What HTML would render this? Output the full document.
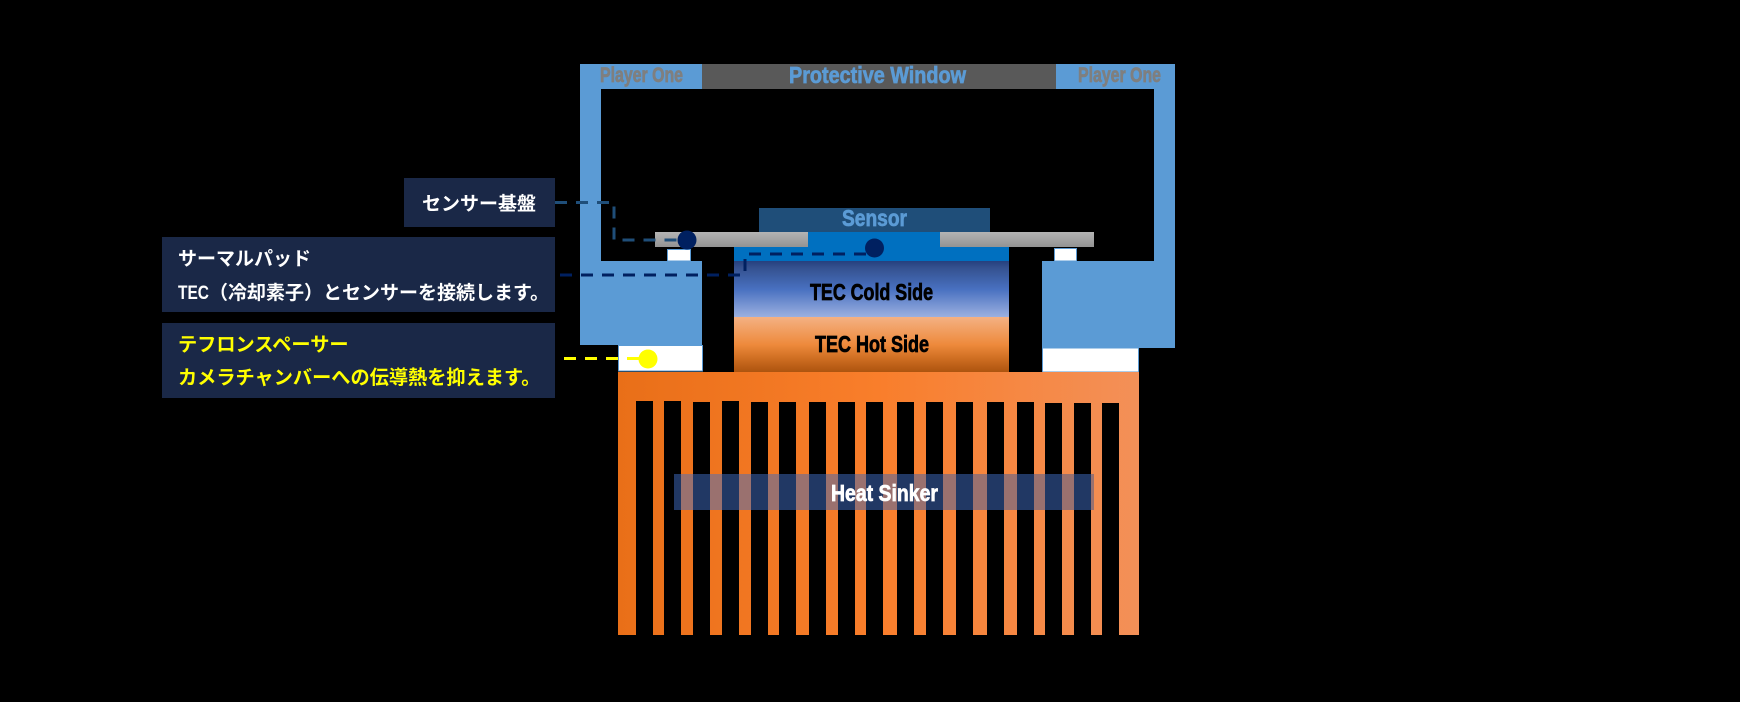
<!DOCTYPE html>
<html><head><meta charset="utf-8"><style>html,body{margin:0;padding:0;background:#000;width:1740px;height:702px;overflow:hidden}svg{display:block}
.c{font-family:"Liberation Sans Narrow","Liberation Sans",sans-serif;font-weight:bold;stroke-width:.7}
.j{font-family:"Liberation Sans","Noto Sans CJK JP",sans-serif;font-weight:bold;font-size:19px;fill:#fff}
.n{font-family:"Liberation Sans Narrow","Liberation Sans",sans-serif;font-weight:bold}
</style></head><body>
<svg width="1740" height="702" viewBox="0 0 1740 702" xmlns="http://www.w3.org/2000/svg">
<defs>
<linearGradient id="or" x1="0" x2="1" y1="0" y2="0"><stop offset="0" stop-color="#e96f18"/><stop offset=".5" stop-color="#f97e2b"/><stop offset="1" stop-color="#f39058"/></linearGradient>
<linearGradient id="cold" x1="0" x2="0" y1="0" y2="1"><stop offset="0" stop-color="#26407e"/><stop offset=".12" stop-color="#34518f"/><stop offset=".5" stop-color="#4870c0"/><stop offset="1" stop-color="#9bb0e0"/></linearGradient>
<linearGradient id="hot" x1="0" x2="0" y1="0" y2="1"><stop offset="0" stop-color="#f4b183"/><stop offset=".5" stop-color="#ee8a3c"/><stop offset=".75" stop-color="#cf6e22"/><stop offset="1" stop-color="#ad540f"/></linearGradient>
<linearGradient id="gr" x1="0" x2="0" y1="0" y2="1"><stop offset="0" stop-color="#b4b4b4"/><stop offset="1" stop-color="#939393"/></linearGradient>
</defs>
<rect width="1740" height="702" fill="#000"/>
<!-- housing -->
<path d="M580 64H1175V348H1042V261H1154V89H601V261H702V345H580Z" fill="#5b9bd5"/>
<rect x="702" y="64" width="354" height="25" fill="#595959"/>
<!-- white spacers -->
<rect x="618.5" y="345.5" width="84" height="25.5" fill="#fff" stroke="#5b9bd5"/>
<rect x="1042.5" y="348" width="96" height="24" fill="#fff" stroke="#5b9bd5"/>
<rect x="667.5" y="249.5" width="23" height="11.5" fill="#fff" stroke="#5b9bd5"/>
<rect x="1054.5" y="248.5" width="22" height="12.5" fill="#fff" stroke="#5b9bd5"/>
<!-- sensor -->
<rect x="759" y="208" width="231" height="24" fill="#1f4e79"/>
<rect x="734" y="247" width="275" height="14" fill="#0070c0"/>
<rect x="808" y="232" width="132" height="15" fill="#0070c0"/>
<rect x="655" y="232" width="153" height="15" fill="url(#gr)"/>
<rect x="940" y="232" width="154" height="15" fill="url(#gr)"/>
<!-- TEC -->
<rect x="734" y="261" width="275" height="56" fill="url(#cold)"/>
<rect x="734" y="317" width="275" height="55" fill="url(#hot)"/>
<!-- heat sink -->
<rect x="618" y="372" width="521" height="263" fill="url(#or)"/>
<g fill="#000">
<rect x="636" y="401" width="17" height="234"/>
<rect x="664" y="401" width="17" height="234"/>
<rect x="693" y="402" width="17" height="233"/>
<rect x="722" y="401" width="17" height="234"/>
<rect x="751" y="402" width="17" height="233"/>
<rect x="779" y="402" width="17" height="233"/>
<rect x="809" y="402" width="17" height="233"/>
<rect x="838" y="402" width="17" height="233"/>
<rect x="866" y="402" width="17" height="233"/>
<rect x="897" y="402" width="17" height="233"/>
<rect x="926" y="402" width="17" height="233"/>
<rect x="956" y="402" width="17" height="233"/>
<rect x="987" y="402" width="17" height="233"/>
<rect x="1017" y="402" width="17" height="233"/>
<rect x="1045" y="403" width="17" height="232"/>
<rect x="1074" y="403" width="17" height="232"/>
<rect x="1102" y="403" width="17" height="232"/>
</g>
<!-- heat label bar -->
<rect x="674" y="474" width="420" height="36" fill="#213864"/>
<g fill="#9a716f">
<rect x="681" y="474" width="12"  height="36"/>
<rect x="710" y="474" width="12"  height="36"/>
<rect x="739" y="474" width="12"  height="36"/>
<rect x="768" y="474" width="11"  height="36"/>
<rect x="796" y="474" width="13"  height="36"/>
<rect x="826" y="474" width="12"  height="36"/>
<rect x="855" y="474" width="11"  height="36"/>
<rect x="883" y="474" width="14"  height="36"/>
<rect x="914" y="474" width="12"  height="36"/>
<rect x="943" y="474" width="13"  height="36"/>
<rect x="973" y="474" width="14"  height="36"/>
<rect x="1004" y="474" width="13" height="36"/>
<rect x="1034" y="474" width="11" height="36"/>
<rect x="1062" y="474" width="12" height="36"/>
<rect x="1091" y="474" width="3"  height="36"/>
</g>
<!-- diagram text -->
<text class="c" x="600" y="82" font-size="21" fill="#7f7f7f" stroke="#7f7f7f" textLength="83" lengthAdjust="spacingAndGlyphs">Player One</text>
<text class="c" x="1078" y="82" font-size="21" fill="#7f7f7f" stroke="#7f7f7f" textLength="83" lengthAdjust="spacingAndGlyphs">Player One</text>
<text class="c" x="789" y="83" font-size="23" fill="#5b9bd5" stroke="#5b9bd5" textLength="177" lengthAdjust="spacingAndGlyphs">Protective Window</text>
<text class="c" x="842" y="226" font-size="23" fill="#5b9bd5" stroke="#5b9bd5" textLength="65" lengthAdjust="spacingAndGlyphs">Sensor</text>
<text class="c" x="810" y="300" font-size="23" fill="#000" stroke="#000" textLength="123" lengthAdjust="spacingAndGlyphs">TEC Cold Side</text>
<text class="c" x="815" y="352" font-size="23" fill="#000" stroke="#000" textLength="114" lengthAdjust="spacingAndGlyphs">TEC Hot Side</text>
<text class="c" x="831" y="501" font-size="23" fill="#fff" stroke="#fff" textLength="107" lengthAdjust="spacingAndGlyphs">Heat Sinker</text>
<!-- label boxes -->
<rect x="404" y="178" width="151" height="49" fill="#1a2847"/>
<rect x="162" y="237" width="393" height="75" fill="#1a2847"/>
<rect x="162" y="323" width="393" height="75" fill="#1a2847"/>
<text class="j" x="422" y="210">センサー基盤</text>
<text class="j" x="178" y="265">サーマルパッド</text>
<text class="n" x="178" y="299" font-size="19" fill="#fff" textLength="31" lengthAdjust="spacingAndGlyphs">TEC</text>
<text class="j" x="209" y="299">（冷却素子）とセンサーを接続します。</text>
<text class="j" x="178" y="351" style="fill:#ffff00;font-size:19.2px">テフロンスペーサー</text>
<text class="j" x="178" y="384" style="fill:#ffff00;font-size:19.2px">カメラチャンバーへの伝導熱を抑えます。</text>
<!-- leader lines -->
<path d="M555 202.500H614V240H687" fill="none" stroke="#1f4e79" stroke-width="3" stroke-dasharray="12 9"/>
<circle cx="687" cy="240" r="9.5" fill="#002060"/>
<path d="M560 275H745V254H875" fill="none" stroke="#002060" stroke-width="3" stroke-dasharray="12 9"/>
<circle cx="874.500" cy="248" r="9.5" fill="#002060"/>
<path d="M564 358.500H648" fill="none" stroke="#ffff00" stroke-width="3" stroke-dasharray="12 9"/>
<circle cx="648" cy="359" r="9.500" fill="#ffff00"/>
</svg>
</body></html>
